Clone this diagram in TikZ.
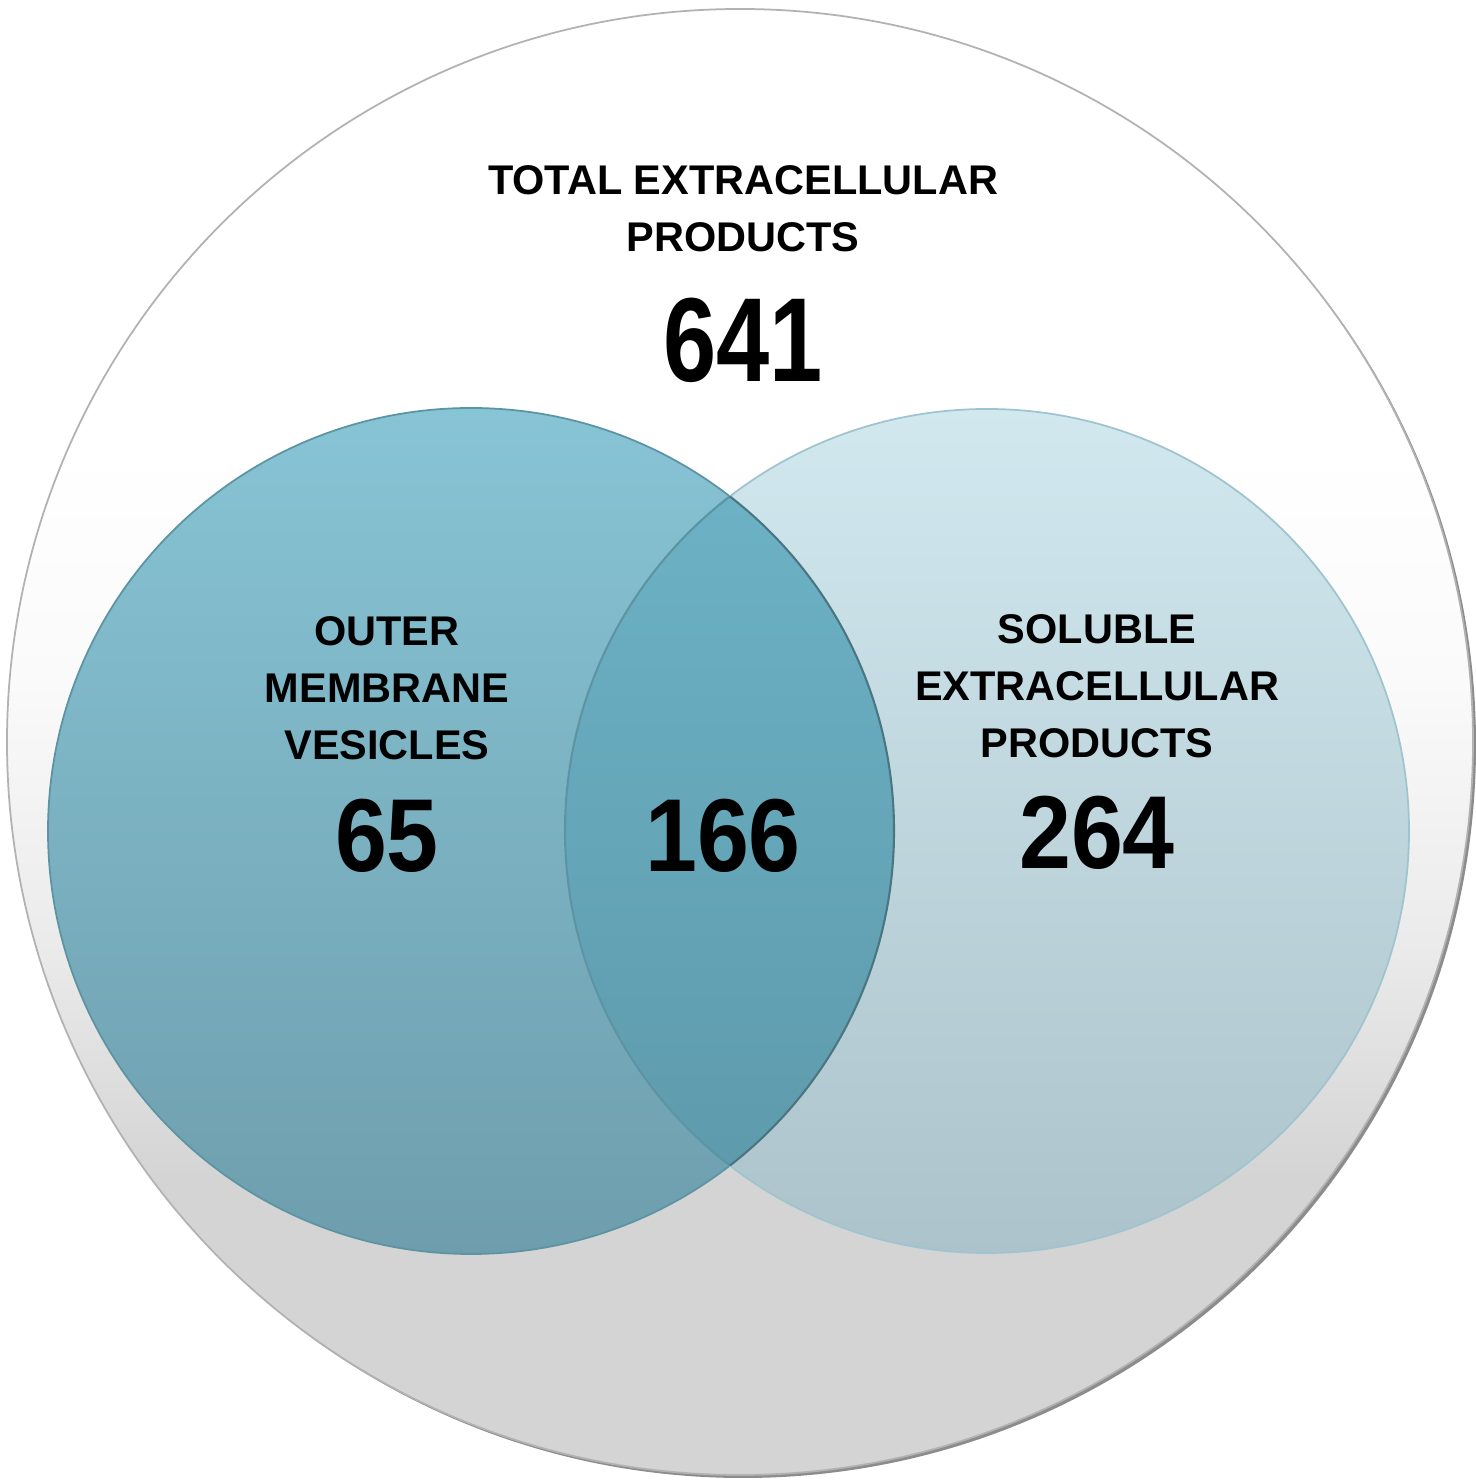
\documentclass[tikz,border=0pt]{standalone}
\usepackage{fontspec}
\setmainfont{Liberation Sans}
\newfontfamily\numfont{Liberation Sans}[FakeStretch=0.9]
\newfontfamily\bignumfont{Liberation Sans}[FakeStretch=0.8]
\usetikzlibrary{positioning}

\definecolor{omvtop}{RGB}{135,196,213}
\definecolor{omvbot}{RGB}{110,158,173}
\definecolor{septop}{RGB}{210,232,239}
\definecolor{sepbot}{RGB}{173,195,203}
\definecolor{bothtop}{RGB}{110,180,200}
\definecolor{bothbot}{RGB}{92,152,169}
\definecolor{omvline}{RGB}{92,148,163}
\definecolor{sepline}{RGB}{160,196,207}
\pgfdeclareverticalshading{outershade}{100bp}{color(0bp)=(black!17); color(35bp)=(black!17); color(43bp)=(black!8); color(52bp)=(black!2); color(60bp)=(white); color(100bp)=(white)}

\tikzset{
	lbl/.style={align=center,inner sep=0pt,font=\fontsize{11.8}{16.2}\selectfont\bfseries},
	num/.style={inner sep=0pt,font=\numfont\bfseries\fontsize{29.5}{30}\selectfont}
}

\begin{document}
\begin{tikzpicture}
	\useasboundingbox[fill=white] (0,0) rectangle (14.76,14.81);
	% outer set with its shadow
	\fill[black!45] (7.43,7.36) circle (7.33);
	\node[circle,minimum size=14.66cm,inner sep=0pt,shading=outershade,draw=black!30,line width=0.5pt] (total) at (7.40,7.39) {};
	% the two inner sets
	\node[circle,minimum size=8.46cm,inner sep=0pt,top color=omvtop,bottom color=omvbot,draw=omvline,line width=0.5pt] (omv) at (4.71,6.50) {};
	\node[circle,minimum size=8.44cm,inner sep=0pt,top color=septop,bottom color=sepbot,draw=sepline,line width=0.5pt] (sep) at (9.87,6.50) {};
	\begin{scope}
		\clip (omv.center) circle (4.23);
		\fill[top color=bothtop,bottom color=bothbot] (sep.center) circle (4.22);
		\draw[omvline,line width=0.6pt] (sep.center) circle (4.22);
	\end{scope}
	\begin{scope}
		\clip (sep.center) circle (4.22);
		\draw[omvline!80!black,line width=0.6pt] (omv.center) circle (4.23);
	\end{scope}
	% labels
	\node[lbl] (totallbl) at (7.43,12.72) {TOTAL EXTRACELLULAR\\PRODUCTS};
	\node[num,font=\bignumfont\bfseries\fontsize{34}{36}\selectfont] (n641) at (7.43,11.41) {641};
	\node[lbl] (omvlbl) at (3.87,7.93) {OUTER\\MEMBRANE\\VESICLES};
	\node[num] (n65) at (3.87,6.45) {65};
	\node[num] (n166) at (7.23,6.45) {166};
	\node[lbl] (seplbl) at (10.97,7.95) {SOLUBLE\\EXTRACELLULAR\\PRODUCTS};
	\node[num] (n264) at (10.97,6.48) {264};
\end{tikzpicture}
\end{document}
